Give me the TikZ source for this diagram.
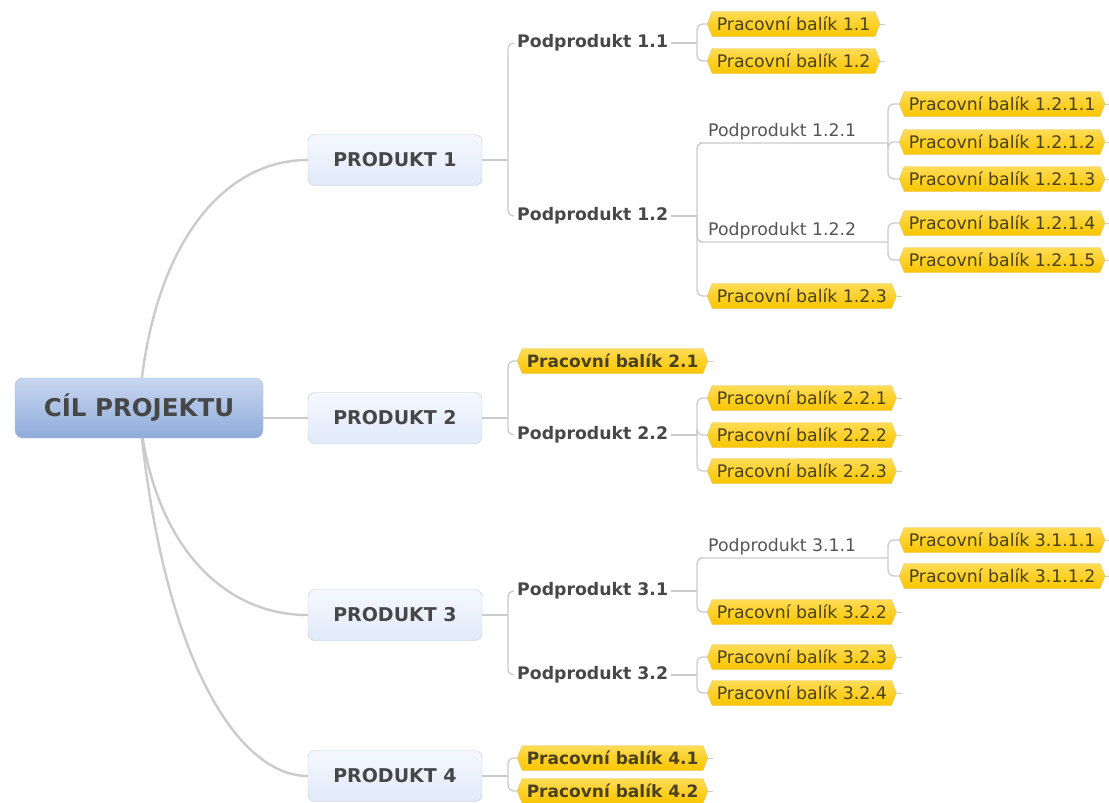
\documentclass[tikz,border=0pt]{standalone}
\usepackage{fontspec}
\setmainfont{DejaVu Sans}
\usetikzlibrary{shapes,positioning,backgrounds}

\definecolor{linegray}{HTML}{CBCBCB}
\definecolor{textdark}{HTML}{474747}
\definecolor{textmid}{HTML}{555555}
\definecolor{goaltop}{HTML}{C9D7EF}
\definecolor{goalbot}{HTML}{8FABDB}
\definecolor{goalline}{HTML}{A9B9D3}
\definecolor{prodtop}{HTML}{F5F8FE}
\definecolor{prodbot}{HTML}{E1EAFA}
\definecolor{prodline}{HTML}{C3CAD6}
\definecolor{pkgtop}{HTML}{FFDC55}
\definecolor{pkgbot}{HTML}{F9C500}
\definecolor{pkgline}{HTML}{E2C66E}
\definecolor{pkgtext}{HTML}{4B4120}

\tikzset{
  goal/.style={draw=goalline, rounded corners=8pt, top color=goaltop, bottom color=goalbot,
    minimum width=248pt, minimum height=60pt, text=textdark,
    font=\fontsize{24.5}{28}\selectfont\bfseries},
  product/.style={draw=prodline, rounded corners=7pt, top color=prodtop, bottom color=prodbot,
    minimum width=174pt, minimum height=51pt, text=textdark,
    font=\fontsize{19}{22}\selectfont\bfseries},
  subprod/.style={anchor=west, inner sep=3pt, text=textdark,
    font=\fontsize{17.3}{20}\selectfont\bfseries},
  subline/.style={anchor=south west, inner sep=3pt, text=textmid,
    font=\fontsize{17.3}{20}\selectfont},
  package/.style={signal, signal to=east and west, signal pointer angle=136, anchor=west,
    draw=pkgline, top color=pkgtop, bottom color=pkgbot, minimum height=25pt,
    inner xsep=4.5pt, inner ysep=0pt, text=pkgtext,
    font=\fontsize{17.3}{20}\selectfont},
  boldpackage/.style={package, font=\fontsize{17}{20}\selectfont\bfseries},
  limb/.style={draw=linegray, line width=2.4pt},
  branch/.style={draw=linegray, line width=1.3pt, rounded corners=6pt},
  stub/.style={draw=linegray, line width=1pt}
}

\begin{document}
\begin{tikzpicture}[x=1pt, y=-1pt]
\useasboundingbox (0,0) rectangle (1109,803);

% goal and products
\node[goal] (root) at (139,408) {CÍL PROJEKTU};
\node[product] (prod1) at (395,160) {PRODUKT 1};
\node[product] (prod2) at (395,418) {PRODUKT 2};
\node[product] (prod3) at (395,615) {PRODUKT 3};
\node[product] (prod4) at (395,776) {PRODUKT 4};

% product 1
\node[subprod] (s11) at (514,43) {Podprodukt 1.1};
\node[subprod] (s12) at (514,216) {Podprodukt 1.2};
\node[package] (w11) at (707,24) {Pracovní balík 1.1};
\node[package] (w12) at (707,61) {Pracovní balík 1.2};
\node[subline] (s121) at (705,143) {Podprodukt 1.2.1};
\node[subline] (s122) at (705,242) {Podprodukt 1.2.2};
\node[package] (w123) at (707,296) {Pracovní balík 1.2.3};
\node[package] (w1211) at (899,104) {Pracovní balík 1.2.1.1};
\node[package] (w1212) at (899,142) {Pracovní balík 1.2.1.2};
\node[package] (w1213) at (899,179) {Pracovní balík 1.2.1.3};
\node[package] (w1214) at (899,223) {Pracovní balík 1.2.1.4};
\node[package] (w1215) at (899,260) {Pracovní balík 1.2.1.5};

% product 2
\node[boldpackage] (w21) at (517,361) {Pracovní balík 2.1};
\node[subprod] (s22) at (514,435) {Podprodukt 2.2};
\node[package] (w221) at (707,398) {Pracovní balík 2.2.1};
\node[package] (w222) at (707,435) {Pracovní balík 2.2.2};
\node[package] (w223) at (707,471) {Pracovní balík 2.2.3};

% product 3
\node[subprod] (s31) at (514,591) {Podprodukt 3.1};
\node[subprod] (s32) at (514,675) {Podprodukt 3.2};
\node[subline] (s311) at (705,558) {Podprodukt 3.1.1};
\node[package] (w322) at (707,612) {Pracovní balík 3.2.2};
\node[package] (w3111) at (899,540) {Pracovní balík 3.1.1.1};
\node[package] (w3112) at (899,576) {Pracovní balík 3.1.1.2};
\node[package] (w323) at (707,657) {Pracovní balík 3.2.3};
\node[package] (w324) at (707,693) {Pracovní balík 3.2.4};

% product 4
\node[boldpackage] (w41) at (517,758) {Pracovní balík 4.1};
\node[boldpackage] (w42) at (517,791) {Pracovní balík 4.2};

% junctions
\coordinate (j1) at (508,160);
\coordinate (j11) at (697,43);
\coordinate (j12) at (697,216);
\coordinate (j121) at (888,143);
\coordinate (j122) at (888,242);
\coordinate (j2) at (508,418);
\coordinate (j22) at (697,435);
\coordinate (j3) at (508,615);
\coordinate (j31) at (697,591);
\coordinate (j311) at (888,558);
\coordinate (j32) at (697,675);
\coordinate (j4) at (508,776);

\begin{scope}[on background layer]
\draw[limb] (root.center) .. controls (150,250) and (220,160) .. (prod1.west);
\draw[limb] (root.east |- prod2.west) -- (prod2.west);
\draw[limb] (root.center) .. controls (150,540) and (220,615) .. (prod3.west);
\draw[limb] (root.center) .. controls (160,650) and (235,776) .. (prod4.west);
\end{scope}

\draw[branch] (prod1.east) -- (j1);
\foreach \c in {s11,s12} \draw[branch] (j1) |- (\c.west);
\draw[branch] (s11.east) -- (j11);
\foreach \c in {w11,w12} \draw[branch] (j11) |- (\c.west);
\draw[branch] (s12.east) -- (j12);
\draw[branch] (j12) |- (w123.west);
\draw[branch] (j12) |- (s121.south west) -- (j121);
\draw[branch] (j12) |- (s122.south west) -- (j122);
\foreach \c in {w1211,w1212,w1213} \draw[branch] (j121) |- (\c.west);
\foreach \c in {w1214,w1215} \draw[branch] (j122) |- (\c.west);

\draw[branch] (prod2.east) -- (j2);
\foreach \c in {w21,s22} \draw[branch] (j2) |- (\c.west);
\draw[branch] (s22.east) -- (j22);
\foreach \c in {w221,w222,w223} \draw[branch] (j22) |- (\c.west);

\draw[branch] (prod3.east) -- (j3);
\foreach \c in {s31,s32} \draw[branch] (j3) |- (\c.west);
\draw[branch] (s31.east) -- (j31);
\draw[branch] (j31) |- (w322.west);
\draw[branch] (j31) |- (s311.south west) -- (j311);
\foreach \c in {w3111,w3112} \draw[branch] (j311) |- (\c.west);
\draw[branch] (s32.east) -- (j32);
\foreach \c in {w323,w324} \draw[branch] (j32) |- (\c.west);

\draw[branch] (prod4.east) -- (j4);
\foreach \c in {w41,w42} \draw[branch] (j4) |- (\c.west);

% small stubs on the package ends
\foreach \c in {w11,w12,w123,w1211,w1212,w1213,w1214,w1215,w21,w221,w222,w223,
  w322,w3111,w3112,w323,w324,w41,w42}
  \draw[stub] (\c.east) -- ++(5,0);
\end{tikzpicture}
\end{document}
